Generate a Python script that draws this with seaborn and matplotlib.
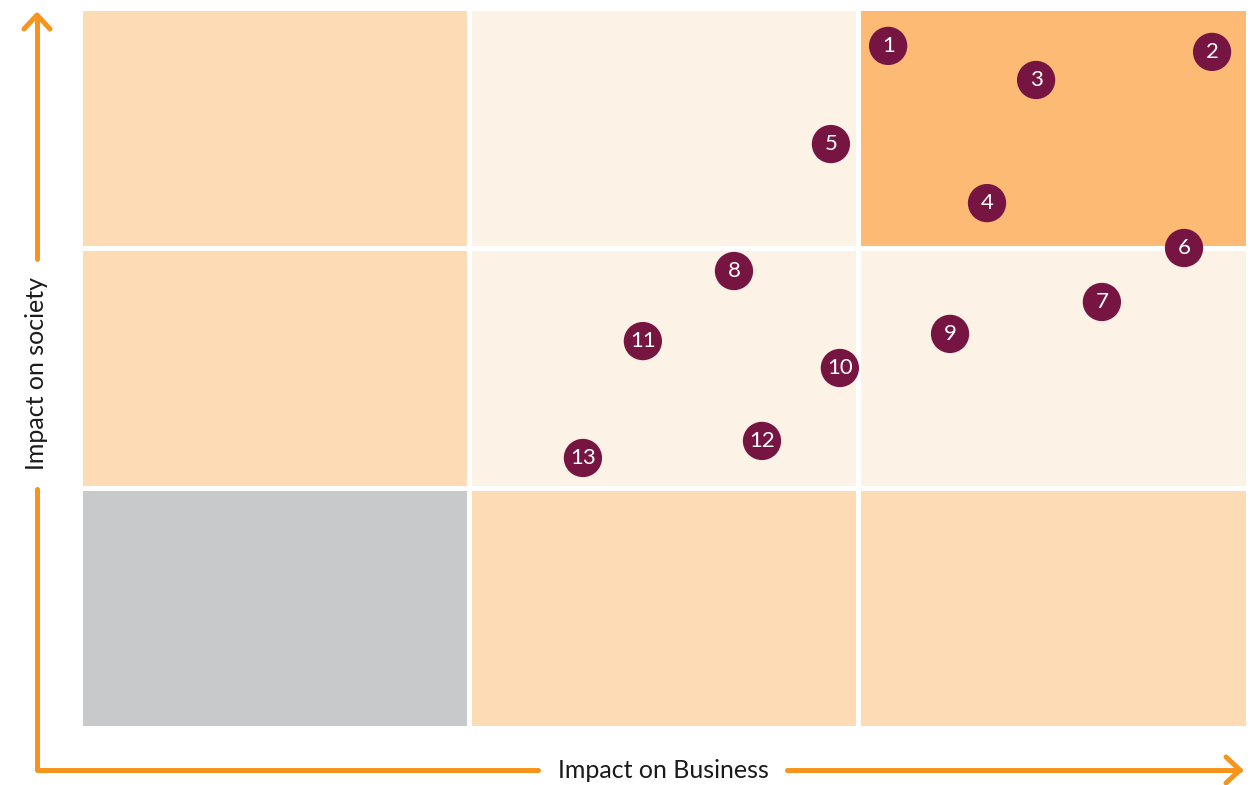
import matplotlib
matplotlib.use("Agg")
import matplotlib.pyplot as plt
import seaborn as sns
import pandas as pd
from matplotlib.patches import Rectangle

# point labels and positions (grid units: 3 columns x 3 rows)
labels = ["1", "2", "3", "4", "5", "6", "7", "8", "9", "10", "11", "12", "13"]
business = [2.077, 2.909, 2.457, 2.331, 1.93, 2.837, 2.626, 1.681, 2.236, 1.953, 1.447, 1.753, 1.293]
society = [2.84, 2.815, 2.698, 2.185, 2.431, 1.998, 1.773, 1.902, 1.64, 1.498, 1.61, 1.194, 1.123]

# cell colours, rows from bottom to top
cell_colors = [
    ["#C8C9CB", "#FDDBB4", "#FDDBB4"],
    ["#FDDBB4", "#FDF2E6", "#FDF2E6"],
    ["#FDDBB4", "#FDF2E6", "#FCBA75"],
]

x_label = "Impact on Business"
y_label = "Impact on society"

sns.set_theme(style="white")
plt.rcParams["font.family"] = ["Lato", "DejaVu Sans"]

df = pd.DataFrame({"label": labels, "business": business, "society": society})

fig = plt.figure(figsize=(12.58, 7.85), dpi=100)
ax = fig.add_axes([79.5 / 1258, 57.5 / 785, 1168 / 1258, 720 / 785])

for r, row in enumerate(cell_colors):
    for c, col in enumerate(row):
        ax.add_patch(Rectangle((c, r), 1, 1, facecolor=col, edgecolor="white", linewidth=3.6))

sns.scatterplot(data=df, x="business", y="society", s=760, color="#771542",
                edgecolor="none", legend=False, ax=ax, zorder=3)
for _, p in df.iterrows():
    ax.text(p["business"], p["society"], p["label"], color="white", fontsize=16,
            ha="center", va="center", zorder=4)

ax.set_xlim(0, 3)
ax.set_ylim(0, 3)
ax.set_xlabel("")
ax.set_ylabel("")
ax.set_xticks([])
ax.set_yticks([])
for s in ax.spines.values():
    s.set_visible(False)

# axis arrows in pixel coordinates on an overlay
ov = fig.add_axes([0, 0, 1, 1], facecolor="none")
ov.set_xlim(0, 1258)
ov.set_ylim(785, 0)
ov.axis("off")
orange = "#F7941D"
lw = 3.6
kw = dict(color=orange, lw=lw, solid_capstyle="round", solid_joinstyle="round")
ov.plot([37, 37, 538], [489, 770, 770], **kw)
ov.plot([37, 37], [16, 259], **kw)
ov.plot([24, 37, 50], [29, 15, 29], **kw)
ov.plot([787, 1240], [770, 770], **kw)
ov.plot([1226, 1240, 1226], [757, 770, 783], **kw)
ov.text(663, 771, x_label, fontsize=18, color="#1a1a1a", ha="center", va="center")
ov.text(37, 374, y_label, fontsize=18, color="#1a1a1a", ha="center", va="center",
        rotation=90)

fig.savefig("out.png", dpi=100)
